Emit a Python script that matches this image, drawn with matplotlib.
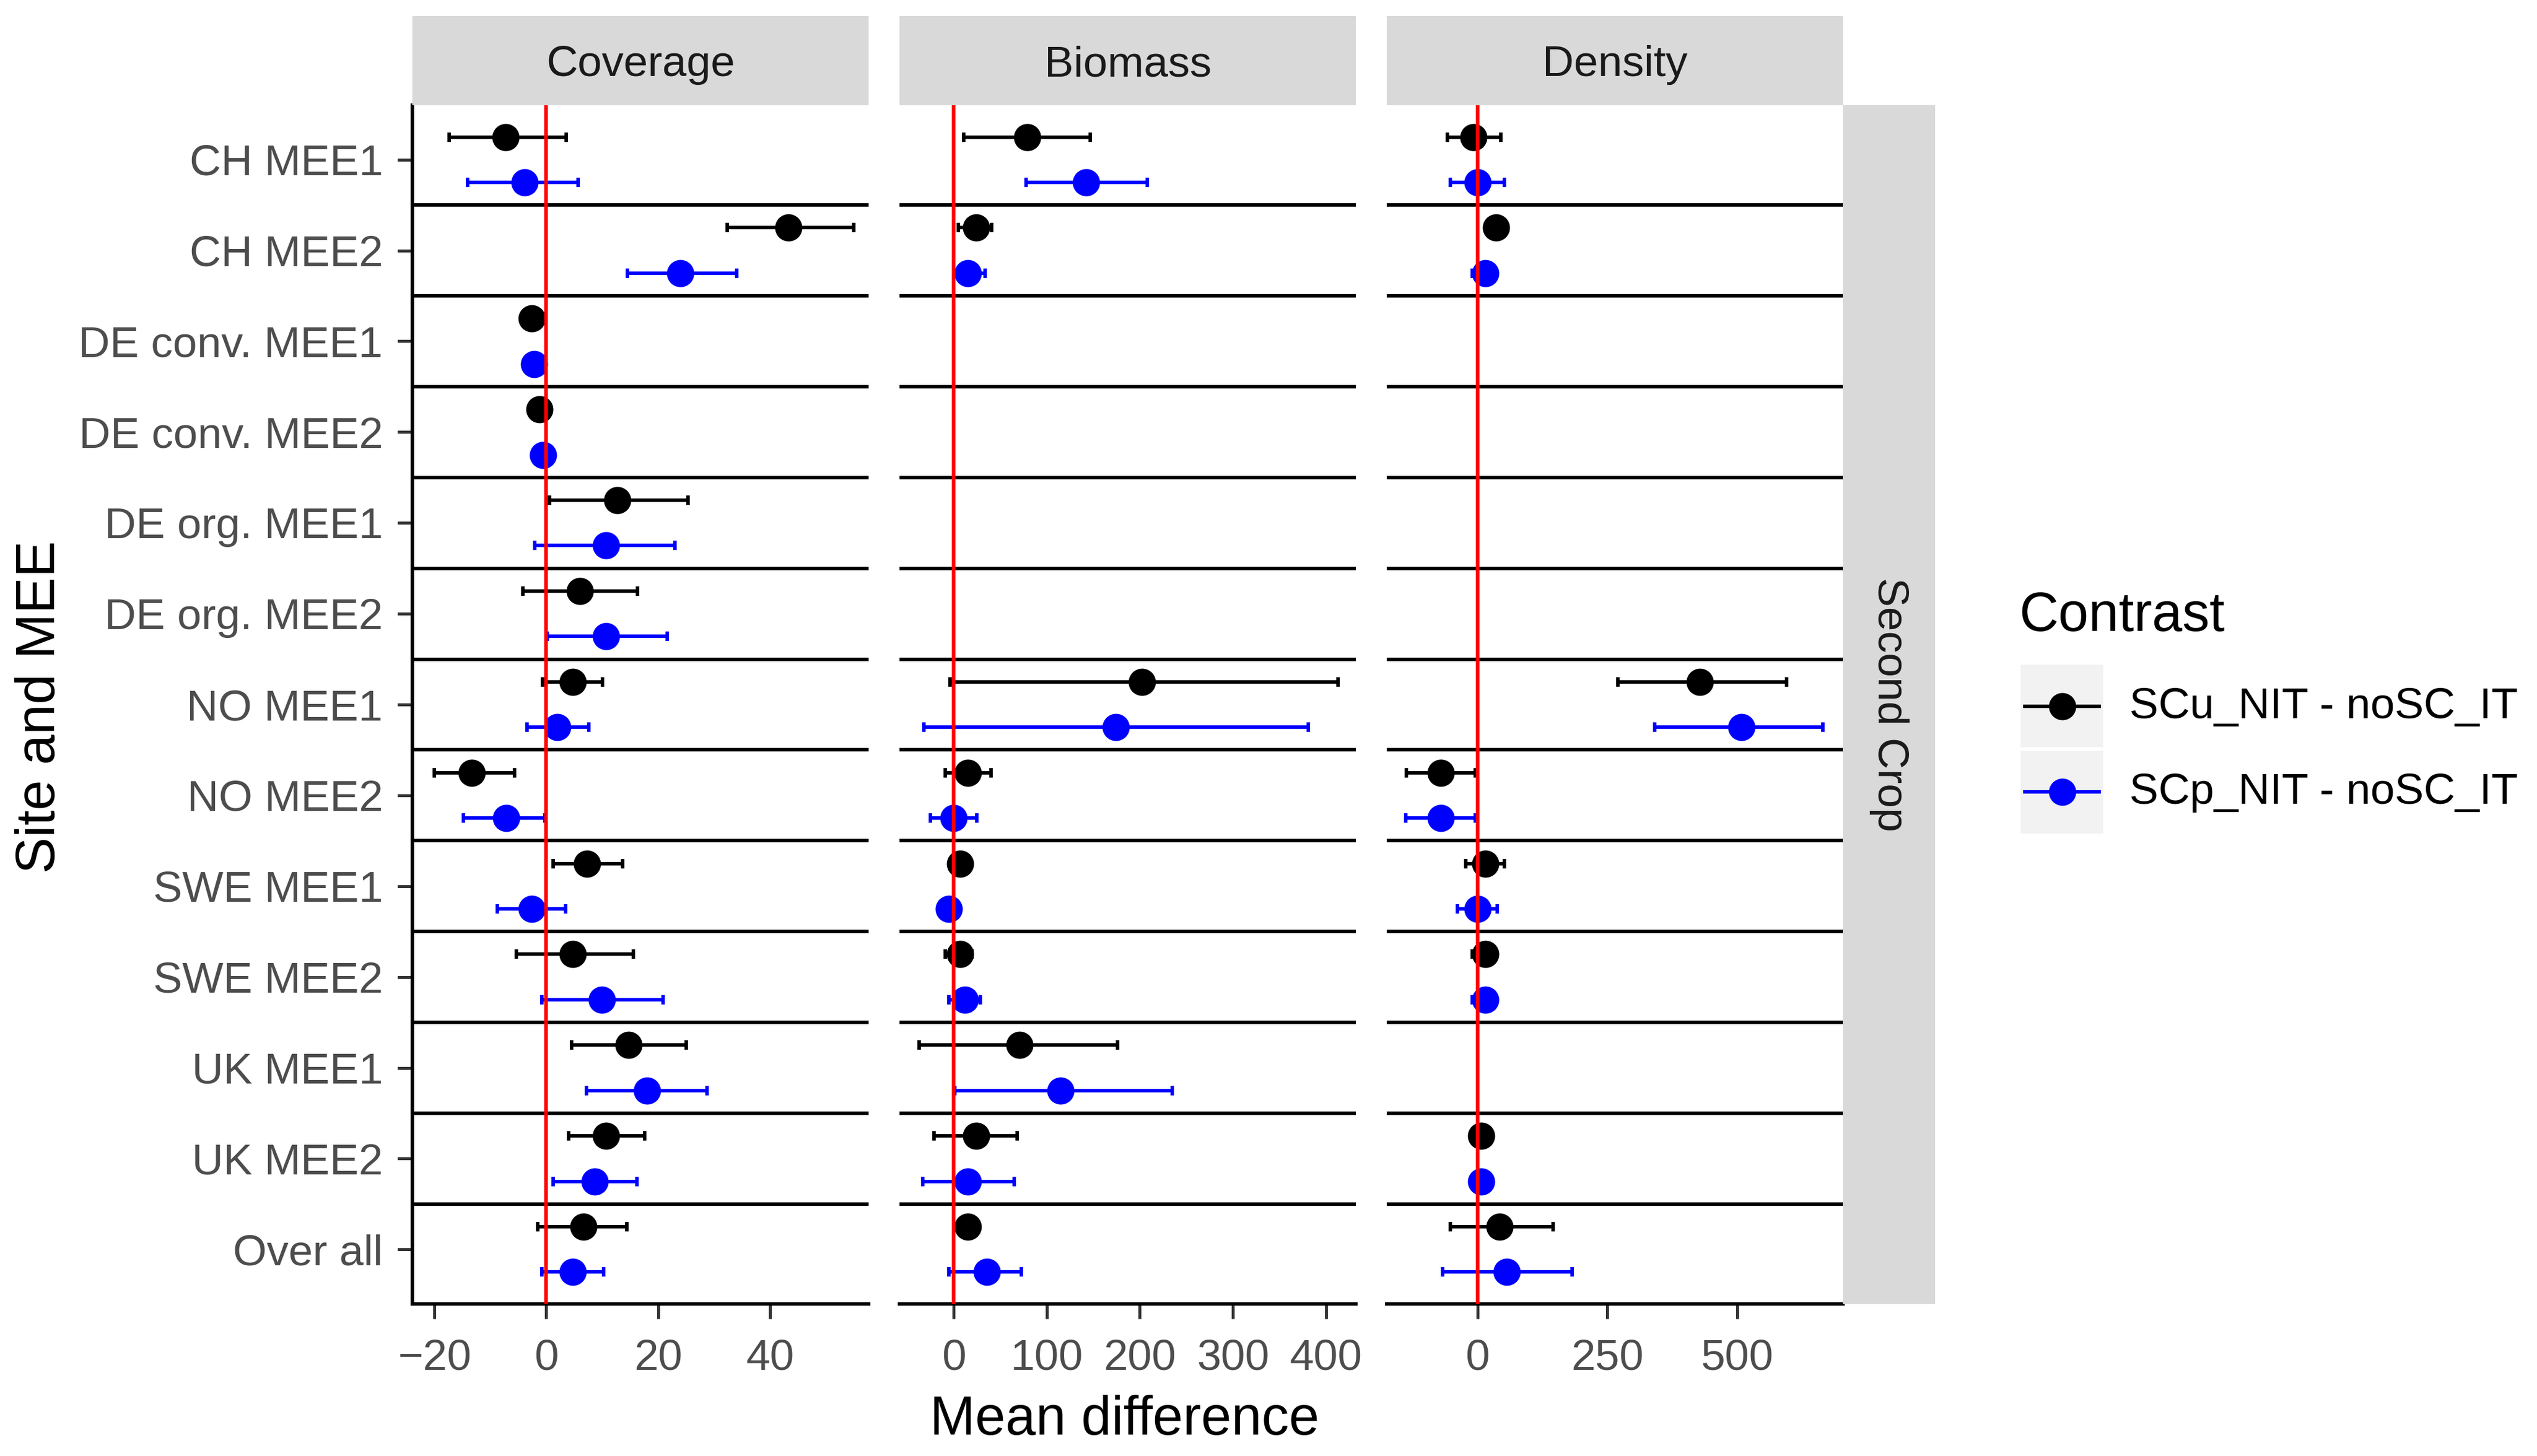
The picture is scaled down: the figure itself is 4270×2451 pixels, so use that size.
import numpy as np
import matplotlib.pyplot as plt

plt.rcParams["font.family"] = ["Liberation Sans", "DejaVu Sans"]

nan = np.nan

sites = ["CH MEE1", "CH MEE2", "DE conv. MEE1", "DE conv. MEE2", "DE org. MEE1",
         "DE org. MEE2", "NO MEE1", "NO MEE2", "SWE MEE1", "SWE MEE2",
         "UK MEE1", "UK MEE2", "Over all"]
panels = ["Coverage", "Biomass", "Density"]
contrasts = ["SCu_NIT - noSC_IT", "SCp_NIT - noSC_IT"]
colors = ["black", "blue"]

# Coverage
cov_scu_mean = [-7.3, 43.3, -2.6, -1.2, 12.7, 6.0, 4.7, -13.3, 7.3, 4.7, 14.7, 10.7, 6.7]
cov_scu_lo = [-17.4, 32.4, nan, nan, 0.6, -4.2, -0.7, -20.0, 1.2, -5.4, 4.5, 4.0, -1.5]
cov_scu_hi = [3.6, 55.0, nan, nan, 25.4, 16.3, 10.1, -5.7, 13.7, 15.6, 25.0, 17.6, 14.4]
cov_scp_mean = [-3.9, 24.0, -2.2, -0.6, 10.7, 10.7, 2.0, -7.2, -2.6, 10.0, 18.0, 8.7, 4.7]
cov_scp_lo = [-14.1, 14.5, nan, nan, -2.1, 0.2, -3.4, -14.8, -8.7, -0.8, 7.2, 1.2, -0.8]
cov_scp_hi = [5.7, 34.1, nan, nan, 23.0, 21.6, 7.6, -0.3, 3.5, 20.9, 28.8, 16.2, 10.3]

# Biomass
bio_scu_mean = [79, 24, nan, nan, nan, nan, 202, 15, 7, 7, 71, 24, 15]
bio_scu_lo = [11, 5, nan, nan, nan, nan, -4, -9, nan, -9, -37, -21, nan]
bio_scu_hi = [147, 41, nan, nan, nan, nan, 413, 40, nan, 20, 176, 68, nan]
bio_scp_mean = [142, 15, nan, nan, nan, nan, 174, 0, -5, 12, 115, 15, 36]
bio_scp_lo = [78, 2, nan, nan, nan, nan, -32, -25, nan, -5, 1, -33, -5]
bio_scp_hi = [208, 34, nan, nan, nan, nan, 381, 25, nan, 29, 235, 65, 73]

# Density
den_scu_mean = [-8, 36, nan, nan, nan, nan, 429, -71, 15, 15, nan, 7, 43]
den_scu_lo = [-58, nan, nan, nan, nan, nan, 270, -137, -23, -10, nan, nan, -52]
den_scu_hi = [45, nan, nan, nan, nan, nan, 595, -4, 52, nan, nan, nan, 146]
den_scp_mean = [0, 15, nan, nan, nan, nan, 508, -71, 0, 15, nan, 7, 57]
den_scp_lo = [-52, -10, nan, nan, nan, nan, 341, -138, -38, -10, nan, nan, -67]
den_scp_hi = [52, nan, nan, nan, nan, nan, 665, -4, 38, nan, nan, nan, 182]

cov_ticks = [-20, 0, 20, 40]
bio_ticks = [0, 100, 200, 300, 400]
den_ticks = [0, 250, 500]

panel_data = [
    [(cov_scu_mean, cov_scu_lo, cov_scu_hi), (cov_scp_mean, cov_scp_lo, cov_scp_hi)],
    [(bio_scu_mean, bio_scu_lo, bio_scu_hi), (bio_scp_mean, bio_scp_lo, bio_scp_hi)],
    [(den_scu_mean, den_scu_lo, den_scu_hi), (den_scp_mean, den_scp_lo, den_scp_hi)],
]
panel_ticks = [cov_ticks, bio_ticks, den_ticks]
panel_xlim = [(-23.9, 57.7), (-58, 432), (-175, 704)]

W, H = 1568, 900  # layout measured in reference pixels
fig = plt.figure(figsize=(4270 / 300, 2451 / 300), dpi=300)

def fx(px):
    return px / W

def fy(py):
    return 1 - py / H

panel_left = [255, 556, 857]
panel_w = 282
top, bottom = 65, 806

y = np.arange(len(sites))[::-1].astype(float)
offsets = [0.25, -0.25]
tick_col = "#4D4D4D"

for p, name in enumerate(panels):
    ax = fig.add_axes([fx(panel_left[p]), fy(bottom), fx(panel_w), (bottom - top) / H])
    for k in range(len(sites) - 1):
        ax.axhline(k + 0.5, color="black", lw=1.4, zorder=1)
    for (mean, lo, hi), col, off in zip(panel_data[p], colors, offsets):
        mean = np.array(mean, float)
        lo = np.array(lo, float)
        hi = np.array(hi, float)
        lo = np.where(np.isnan(lo), mean, lo)
        hi = np.where(np.isnan(hi), mean, hi)
        ok = np.isfinite(mean) & (hi > lo)
        ax.errorbar(mean[ok], y[ok] + off, xerr=[mean[ok] - lo[ok], hi[ok] - mean[ok]],
                    fmt="none", ecolor=col, elinewidth=1.4, capsize=2, capthick=1.4,
                    zorder=2)
        ax.plot(mean, y + off, "o", color=col, ms=10, ls="none", zorder=3)
    ax.axvline(0, color="red", lw=1.5, zorder=4)
    ax.set_xlim(*panel_xlim[p])
    ax.set_ylim(-0.6, len(sites) - 0.4)
    ax.set_xticks(panel_ticks[p])
    ax.tick_params(axis="x", colors="#333333", labelcolor=tick_col, labelsize=17.6,
                   length=6, width=1.2, pad=8)
    for s in ["top", "right"]:
        ax.spines[s].set_visible(False)
    ax.spines["bottom"].set_linewidth(1.4)
    if p == 0:
        ax.set_yticks(y)
        ax.set_yticklabels(sites, va="center_baseline")
        ax.tick_params(axis="y", colors="#333333", labelcolor=tick_col, labelsize=17.6,
                       length=6, width=1.2, pad=6)
        ax.spines["left"].set_linewidth(1.4)
    else:
        ax.set_yticks([])
        ax.spines["left"].set_visible(False)

    sax = fig.add_axes([fx(panel_left[p]), fy(top), fx(panel_w), (top - 10) / H])
    sax.set_facecolor("#D9D9D9")
    sax.set_xticks([])
    sax.set_yticks([])
    for s in sax.spines.values():
        s.set_visible(False)
    sax.text(0.5, 0.5, name, ha="center", va="center_baseline", fontsize=17.6,
             color="#1A1A1A", transform=sax.transAxes)

# right strip
rax = fig.add_axes([fx(1139), fy(bottom), fx(57), (bottom - top) / H])
rax.set_facecolor("#D9D9D9")
rax.set_xticks([])
rax.set_yticks([])
for s in rax.spines.values():
    s.set_visible(False)
rax.text(0.5, 0.5, "Second Crop", rotation=270, ha="center", va="center", fontsize=17.6,
         color="#1A1A1A", transform=rax.transAxes)

fig.text(fx(695), fy(878), "Mean difference", ha="center", va="center", fontsize=22)
fig.text(fx(25), fy(437), "Site and MEE", ha="center", va="center", rotation=90, fontsize=22)

# legend
fig.text(fx(1248), fy(390), "Contrast", ha="left", va="baseline", fontsize=22)
for i, (lab, col) in enumerate(zip(contrasts, colors)):
    ktop = 411 + i * 53
    kax = fig.add_axes([fx(1249), fy(ktop + 51), fx(51), 51 / H])
    kax.set_facecolor("#F2F2F2")
    kax.set_xlim(0, 1)
    kax.set_ylim(0, 1)
    kax.set_xticks([])
    kax.set_yticks([])
    for s in kax.spines.values():
        s.set_visible(False)
    kax.plot([0.05, 0.95], [0.5, 0.5], color=col, lw=1.4)
    kax.plot([0.5], [0.5], "o", color=col, ms=10)
    fig.text(fx(1316), fy(ktop + 26), lab, ha="left", va="center", fontsize=17.6)

fig.savefig("out.png", dpi=300, facecolor="white")
